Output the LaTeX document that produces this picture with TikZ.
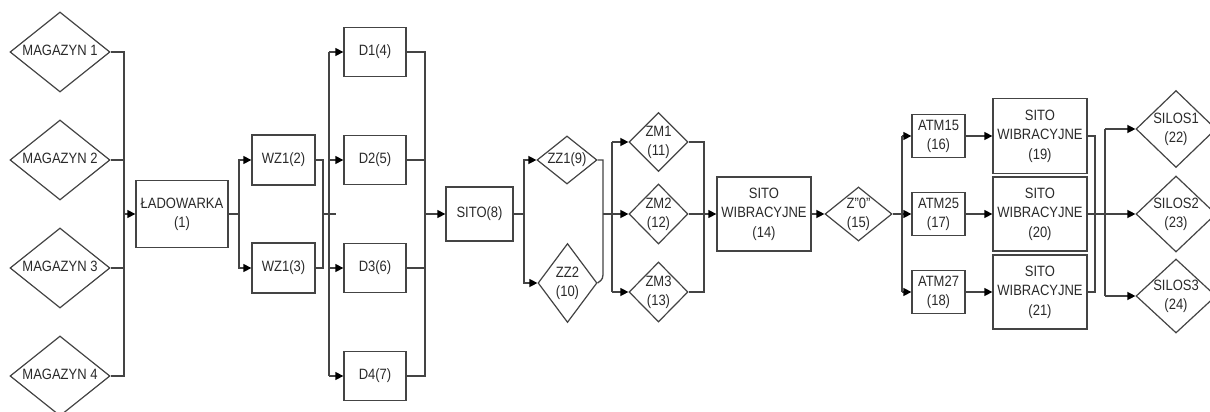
\documentclass[tikz,border=0pt]{standalone}
\usepackage{fontspec}
\usepackage{graphicx}
\setmainfont{Liberation Sans}
\usetikzlibrary{shapes.geometric,arrows.meta}
\definecolor{ln}{HTML}{444444}
\definecolor{tx}{HTML}{2A2A2A}
\newcommand\lbl[1]{\scalebox{1}[1.15]{\begin{tabular}{@{}c@{}}#1\end{tabular}}}
\newcommand\dlbl[1]{\makebox[0pt]{\lbl{#1}}}
\begin{document}
\begin{tikzpicture}[x=1pt,y=-1pt,
  every node/.style={font=\fontsize{13}{17.3}\selectfont, text=tx},
  box/.style={draw=ln, line width=1.3pt, rectangle, inner sep=0pt, fill=white},
  dmd/.style={draw=ln, line width=1.2pt, diamond, inner sep=0pt, fill=white},
  con/.style={draw=ln, line width=1.3pt},
  arr/.style={con, -{Triangle[length=8pt,width=8pt,color=black]}}]
\useasboundingbox (0,0) rectangle (1210,412);
\fill[white] (0,0) rectangle (1210,412);
\clip (0,0) rectangle (1210,412);
% magazyny
\foreach \i/\y in {1/52,2/160,3/268,4/376}
  \node[dmd, minimum width=100pt, minimum height=80pt] (m\i) at (60,\y) {\dlbl{MAGAZYN \i}};
\node[box, minimum width=92pt, minimum height=67pt] (lad) at (182,214) {\lbl{ŁADOWARKA\\(1)}};
\node[box, minimum width=63pt, minimum height=50pt] (wz2) at (283.5,160) {\lbl{WZ1(2)}};
\node[box, minimum width=63pt, minimum height=50pt] (wz3) at (283.5,268) {\lbl{WZ1(3)}};
\node[box, minimum width=62pt, minimum height=49pt] (d1) at (375,52) {\lbl{D1(4)}};
\node[box, minimum width=62pt, minimum height=49pt] (d2) at (375,160) {\lbl{D2(5)}};
\node[box, minimum width=62pt, minimum height=49pt] (d3) at (375,268) {\lbl{D3(6)}};
\node[box, minimum width=62pt, minimum height=49pt] (d4) at (375,376) {\lbl{D4(7)}};
\node[box, minimum width=67pt, minimum height=54pt] (sito8) at (479.5,214) {\lbl{SITO(8)}};
\node[dmd, minimum width=60pt, minimum height=48pt] (zz1) at (567,160) {\dlbl{ZZ1(9)}};
\node[dmd, minimum width=59pt, minimum height=79pt] (zz2) at (567.5,283) {\dlbl{ZZ2\\(10)}};
\node[dmd, minimum width=59pt, minimum height=59pt] (zm1) at (658.5,142) {\dlbl{ZM1\\(11)}};
\node[dmd, minimum width=59pt, minimum height=60pt] (zm2) at (658.5,214) {\dlbl{ZM2\\(12)}};
\node[dmd, minimum width=59pt, minimum height=60pt] (zm3) at (658.5,292) {\dlbl{ZM3\\(13)}};
\node[box, minimum width=94pt, minimum height=74pt] (sw14) at (764,214) {\lbl{SITO\\WIBRACYJNE\\(14)}};
\node[dmd, minimum width=67pt, minimum height=54pt] (z0) at (858.5,214) {\dlbl{Z"0"\\(15)}};
\node[box, minimum width=53pt, minimum height=43pt] (atm15) at (938.5,136) {\lbl{ATM15\\(16)}};
\node[box, minimum width=53pt, minimum height=43pt] (atm25) at (938.5,214) {\lbl{ATM25\\(17)}};
\node[box, minimum width=53pt, minimum height=43pt] (atm27) at (938.5,292) {\lbl{ATM27\\(18)}};
\node[box, minimum width=94pt, minimum height=75pt] (sw19) at (1040,136) {\lbl{SITO\\WIBRACYJNE\\(19)}};
\node[box, minimum width=94pt, minimum height=74pt] (sw20) at (1040,214) {\lbl{SITO\\WIBRACYJNE\\(20)}};
\node[box, minimum width=94pt, minimum height=74pt] (sw21) at (1040,292) {\lbl{SITO\\WIBRACYJNE\\(21)}};
\node[dmd, minimum width=80pt, minimum height=77pt] (s1) at (1176,129) {\dlbl{SILOS1\\(22)}};
\node[dmd, minimum width=80pt, minimum height=76pt] (s2) at (1176,214) {\dlbl{SILOS2\\(23)}};
\node[dmd, minimum width=80pt, minimum height=74pt] (s3) at (1176,296) {\dlbl{SILOS3\\(24)}};
% bus coordinates
\coordinate (b1) at (124,0);
\coordinate (b2) at (239,0);
\coordinate (b3) at (323,0);
\coordinate (stubend) at (336,214);
\coordinate (b4) at (329,0);
\coordinate (b5) at (425,0);
\coordinate (b6) at (524,0);
\coordinate (c7) at (603,270);
\coordinate (c7k) at (603,279);
\coordinate (b7) at (603,0);
\coordinate (b8) at (612,0);
\coordinate (b9) at (704,0);
\coordinate (b10) at (902,0);
\coordinate (b11) at (1095,0);
\coordinate (b12) at (1105,0);
% magazyny -> ladowarka
\draw[con] (m1.east) -| (b1 |- m4.east) -- (m4.east);
\draw[con] (m2.east) -- (b1 |- m2.east);
\draw[con] (m3.east) -- (b1 |- m3.east);
\draw[arr] (b1 |- lad.west) -- (lad.west);
% ladowarka -> WZ
\draw[con] (lad.east) -- (b2 |- lad.east);
\draw[arr] (b2 |- lad.east) |- (wz2.west);
\draw[arr] (b2 |- lad.east) |- (wz3.west);
% WZ merge
\draw[con] (wz2.east) -| (b3 |- wz3.east) -- (wz3.east);
\draw[con] (b3 |- stubend) -- (stubend);
% D bus
\draw[con] (b4 |- d1.west) -- (b4 |- d4.west);
\foreach \k in {1,2,3,4} \draw[arr] (b4 |- d\k.west) -- (d\k.west);
\draw[con] (d1.east) -| (b5 |- d4.east) -- (d4.east);
\draw[con] (d2.east) -- (b5 |- d2.east);
\draw[con] (d3.east) -- (b5 |- d3.east);
\draw[arr] (b5 |- sito8.west) -- (sito8.west);
% sito8 -> ZZ
\draw[con] (sito8.east) -- (b6 |- sito8.east);
\draw[arr] (b6 |- sito8.east) |- (zz1.west);
\draw[arr] (b6 |- sito8.east) |- (zz2.west);
\draw[con] (zz1.east) -| (c7) .. controls (c7k) .. (zz2.east);
% ZM
\draw[con] (b7 |- zm2.west) -- (b8 |- zm2.west);
\draw[con] (b8 |- zm1.west) -- (b8 |- zm3.west);
\foreach \k in {1,2,3} \draw[arr] (b8 |- zm\k.west) -- (zm\k.west);
\draw[con] (zm1.east) -| (b9 |- zm3.east) -- (zm3.east);
\draw[arr] (zm2.east) -- (sw14.west);
\draw[arr] (sw14.east) -- (z0.west);
% ATM
\draw[con] (z0.east) -- (b10 |- z0.east);
\draw[con] (b10 |- atm15.west) -- (b10 |- atm27.west);
\foreach \k in {15,25,27} \draw[arr] (b10 |- atm\k.west) -- (atm\k.west);
\draw[arr] (atm15.east) -- (sw19.west);
\draw[arr] (atm25.east) -- (sw20.west);
\draw[arr] (atm27.east) -- (sw21.west);
% silos
\draw[con] (sw19.east) -| (b11 |- sw21.east) -- (sw21.east);
\draw[arr] (sw20.east) -- (s2.west);
\draw[con] (b12 |- s1.west) -- (b12 |- s3.west);
\draw[arr] (b12 |- s1.west) -- (s1.west);
\draw[arr] (b12 |- s3.west) -- (s3.west);
\end{tikzpicture}
\end{document}
